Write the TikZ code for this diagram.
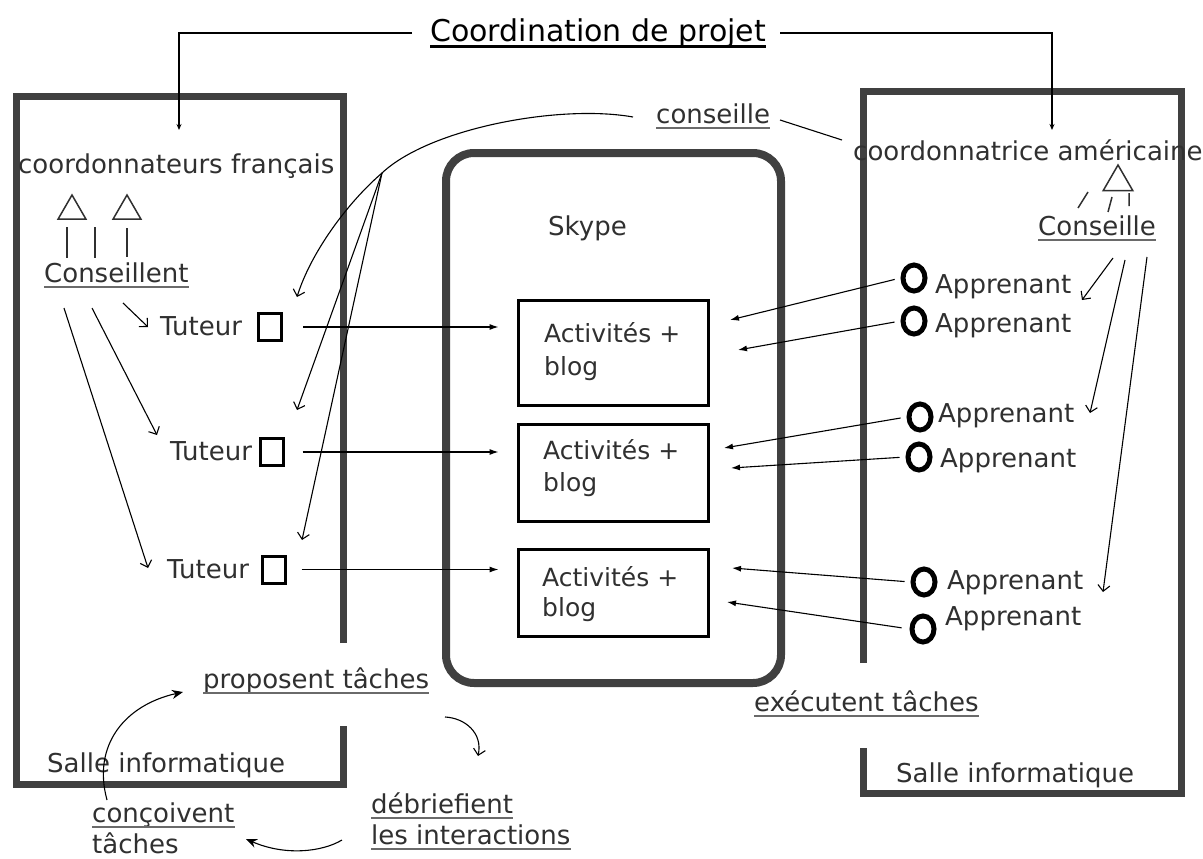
\documentclass[tikz,border=0pt]{standalone}
\usepackage{fontspec}
\setmainfont{DejaVu Sans}
\usetikzlibrary{arrows.meta,shapes.geometric}
\definecolor{wall}{HTML}{404040}
\definecolor{ink}{HTML}{303030}
\definecolor{ulc}{HTML}{6A6A6A}
\newcommand\ulnode[2][ul]{\draw[#1] ([yshift=-5pt]#2.base west) -- ([yshift=-5pt]#2.base east);}
\begin{document}
\begin{tikzpicture}[x=1pt,y=-1pt,
  txt/.style={inner sep=0pt,anchor=base west,text=ink,font=\fontsize{26}{30}\selectfont},
  big/.style={font=\fontsize{30}{35}\selectfont,text=black},
  actfont/.style={font=\fontsize{25}{29}\selectfont},
  wallpath/.style={draw=wall,line width=7pt},
  ln/.style={draw=black,line width=1.1pt},
  ul/.style={draw=ulc,line width=2pt},
  ulbig/.style={draw=black,line width=3pt},
  filltip/.style={-{Latex[length=9pt,width=6pt]}},
  opentip/.style={-{Straight Barb[length=6pt,width=12pt]}},
  sqbox/.style={draw=black,line width=3pt,minimum width=23pt,minimum height=27pt,inner sep=0pt},
  ring/.style={draw=black,line width=5pt,ellipse,minimum width=22pt,minimum height=26pt,inner sep=0pt},
  tri/.style={draw=ink,line width=1.5pt,regular polygon,regular polygon sides=3,minimum size=32pt,inner sep=0pt},
  actbox/.style={draw=black,line width=3pt,minimum width=190pt,inner sep=0pt},
]
\fill[white] (0,0) rectangle (1203,859);
\useasboundingbox (0,0) rectangle (1203,859);

% rooms
\draw[wallpath] (343,643) -- (343,97) -- (16,97) -- (16,784) -- (343,784) -- (343,726);
\draw[wallpath] (863,663) -- (863,92) -- (1181,92) -- (1181,793) -- (863,793) -- (863,748);
\node[draw=wall,line width=8pt,rounded corners=28pt,minimum width=335pt,minimum height=530pt] (skypebox) at (613.5,418) {};

% title
\node[txt,big] (title) at (430,42) {Coordination de projet};
\ulnode[ulbig]{title}
\coordinate (tl) at (412,33);
\coordinate (tr) at (780,33);
\coordinate (tlend) at (179,130);
\coordinate (trend) at (1052,130);
\draw[ln,-{Stealth[length=6pt,width=5pt]}] (tl) -| (tlend);
\draw[ln,-{Stealth[length=6pt,width=5pt]}] (tr) -| (trend);

% left room
\node[txt] (cf) at (18,173) {coordonnateurs français};
\node[tri] (tri1) at (72,211) {};
\node[tri] (tri2) at (127,211) {};
\draw[ln,draw=ink,line width=1.5pt] (67,227) -- (67,258) (95,227) -- (95,258) (127,228) -- (127,257);
\node[txt] (cnt) at (44,282) {Conseillent};
\ulnode{cnt}

\node[txt] (tu1) at (160,335) {Tuteur};
\node[txt] (tu2) at (170,460) {Tuteur};
\node[txt] (tu3) at (167,578) {Tuteur};
\node[sqbox] (sq1) at (270,327) {};
\node[sqbox] (sq2) at (271.5,452) {};
\node[sqbox] (sq3) at (273.5,569.5) {};

\coordinate (cl1s) at (123,303); \coordinate (cl1e) at (148,327);
\coordinate (cl2s) at (92,308);  \coordinate (cl2e) at (157,435);
\coordinate (cl3s) at (64,308);  \coordinate (cl3e) at (148,568);
\draw[ln,opentip] (cl1s) -- (cl1e);
\draw[ln,opentip] (cl2s) -- (cl2e);
\draw[ln,opentip] (cl3s) -- (cl3e);

% skype
\node[txt] (skype) at (548,235) {Skype};
\node[actbox,minimum height=105pt] (b1) at (613,352.5) {};
\node[actbox,minimum height=97pt] (b2) at (613,472.5) {};
\node[actbox,minimum height=87pt] (b3) at (613,592.5) {};
\node[txt,actfont] (b1a) at (544,342) {Activités +};
\node[txt,actfont] (b1b) at (544,375) {blog};
\node[txt,actfont] (b2a) at (543,459) {Activités +};
\node[txt,actfont] (b2b) at (543,491) {blog};
\node[txt,actfont] (b3a) at (542,586) {Activités +};
\node[txt,actfont] (b3b) at (542,616) {blog};

\draw[ln,filltip,shorten <=20pt,shorten >=18pt] (sq1.east) -- (sq1.east -| b1.west);
\draw[ln,filltip,shorten <=18pt,shorten >=18pt] (sq2.east) -- (sq2.east -| b2.west);
\draw[ln,filltip,shorten <=15pt,shorten >=18pt] (sq3.east) -- (sq3.east -| b3.west);

% right room
\node[txt] (ca) at (853,160) {coordonnatrice américaine};
\node[tri,minimum size=34pt] (tri3) at (1118,182) {};
\draw[ln,draw=ink,line width=1.5pt] (1088,192) -- (1078,208) (1112,197) -- (1108,212) (1129,193) -- (1129,206);
\node[txt] (cne) at (1038,235) {Conseille};
\ulnode{cne}

\node[ring] (a1) at (914,278) {};
\node[ring] (a2) at (914,321) {};
\node[ring] (a3) at (920,417) {};
\node[ring] (a4) at (919,457) {};
\node[ring] (a5) at (924,582) {};
\node[ring] (a6) at (923,629) {};
\node[txt] (ap1) at (935,293) {Apprenant};
\node[txt] (ap2) at (935,332) {Apprenant};
\node[txt] (ap3) at (938,422) {Apprenant};
\node[txt] (ap4) at (940,467) {Apprenant};
\node[txt] (ap5) at (947,589) {Apprenant};
\node[txt] (ap6) at (945,625) {Apprenant};

\coordinate (t1) at (730,320);
\coordinate (t2) at (738,350);
\coordinate (t3) at (724,448);
\coordinate (t4) at (731,468);
\coordinate (t5) at (732,568);
\coordinate (t6) at (727,602);
\draw[ln,filltip,shorten <=6pt] (a1.west) -- (t1);
\draw[ln,filltip,shorten <=6pt] (a2.west) -- (t2);
\draw[ln,filltip,shorten <=6pt] (a3.west) -- (t3);
\draw[ln,filltip,shorten <=6pt] (a4.west) -- (t4);
\draw[ln,filltip,shorten <=6pt] (a5.west) -- (t5);
\draw[ln,filltip,shorten <=8pt] (a6.west) -- (t6);

\coordinate (cr1s) at (1113,258); \coordinate (cr1e) at (1082,300);
\coordinate (cr2s) at (1125,260); \coordinate (cr2e) at (1090,413);
\coordinate (cr3s) at (1147,257); \coordinate (cr3e) at (1103,592);
\draw[ln,opentip] (cr1s) -- (cr1e);
\draw[ln,opentip] (cr2s) -- (cr2e);
\draw[ln,opentip] (cr3s) -- (cr3e);

% conseille
\node[txt] (cons) at (656,123) {conseille};
\ulnode{cons}
\coordinate (arcs) at (633,117);
\coordinate (fan) at (382,173);
\coordinate (k1) at (297,297);
\coordinate (k2) at (297,410);
\coordinate (k3) at (302,540);
\coordinate (crs) at (780,120);
\coordinate (cre) at (842,140);
\draw[ln,opentip] (arcs) .. controls (560,104) and (430,128) .. (fan) .. controls (345,205) and (310,255) .. (k1);
\draw[ln,opentip] (fan) -- (k2);
\draw[ln,opentip] (fan) -- (k3);
\draw[ln] (crs) -- (cre);

% bottom
\node[txt] (prop) at (203,688) {proposent tâches};
\ulnode{prop}
\node[txt] (exec) at (754,711) {exécutent tâches};
\ulnode{exec}
\node[txt] (sal1) at (47,772) {Salle informatique};
\node[txt] (sal2) at (896,782) {Salle informatique};
\node[txt] (conc) at (92,822) {conçoivent};
\ulnode{conc}
\node[txt] (tach) at (92,853) {tâches};
\node[txt] (deb) at (371,813) {débriefient};
\ulnode{deb}
\node[txt] (inter) at (371,844) {les interactions};
\ulnode{inter}

\coordinate (c1s) at (107,800); \coordinate (c1e) at (183,692);
\coordinate (c2s) at (342,840); \coordinate (c2e) at (246,839);
\coordinate (c3s) at (445,717); \coordinate (c3e) at (478,756);
\draw[ln,-{Stealth[length=11pt,width=9pt]}] (c1s) .. controls (92,745) and (125,705) .. (c1e);
\draw[ln,-{Stealth[length=11pt,width=9pt]}] (c2s) .. controls (322,852) and (285,856) .. (c2e);
\draw[ln,opentip] (c3s) .. controls (465,718) and (483,733) .. (c3e);
\end{tikzpicture}
\end{document}
